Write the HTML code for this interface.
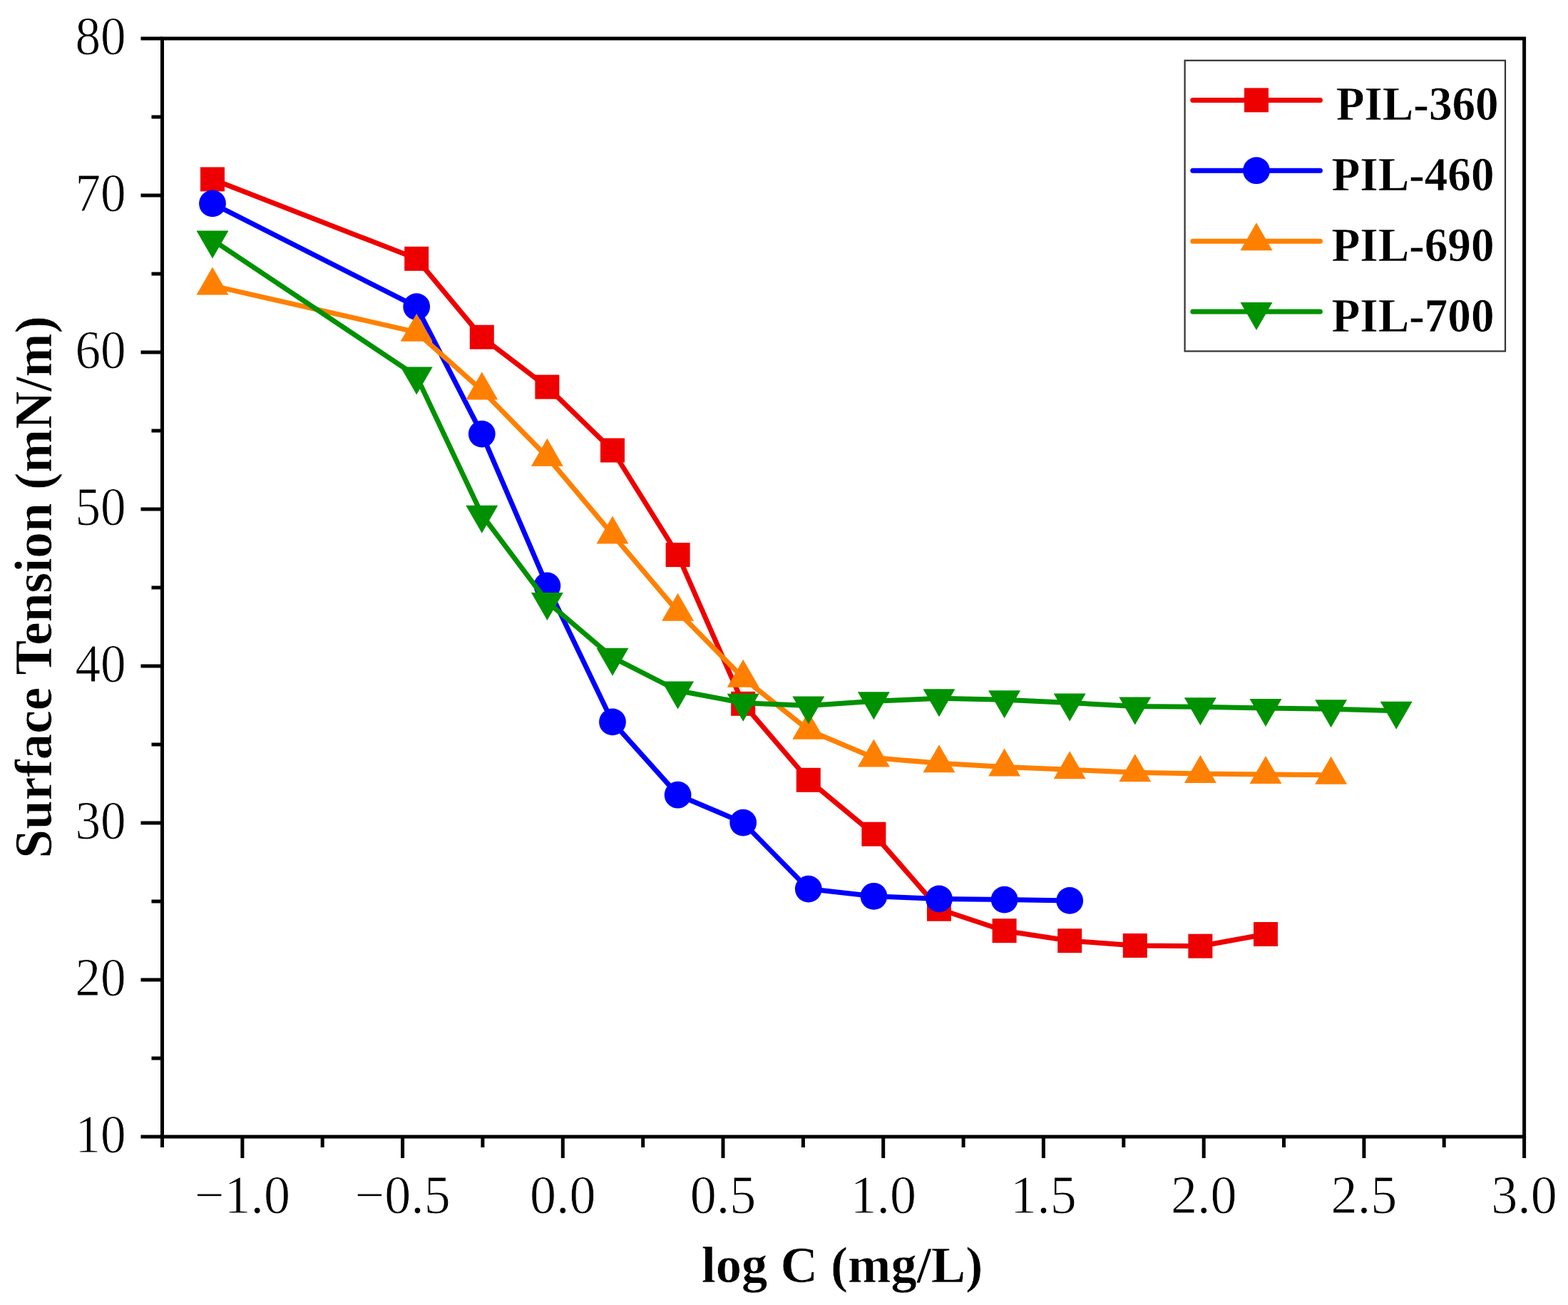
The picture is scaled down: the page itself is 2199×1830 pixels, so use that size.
<!DOCTYPE html>
<html><head><meta charset="utf-8"><title>Surface tension vs log C</title>
<style>
html,body{margin:0;padding:0;background:#fff;}
body{width:2199px;height:1830px;overflow:hidden;}
svg{display:block;filter:blur(0.55px);}
.n{font-family:"Liberation Serif","Times New Roman",serif;font-size:76px;fill:#000;stroke:#fff;stroke-width:0.9px;}
.b{font-family:"Liberation Serif","Times New Roman",serif;font-weight:bold;fill:#000;stroke:#fff;stroke-width:0.6px;}
</style></head><body>
<svg width="2199" height="1830" viewBox="0 0 2199 1830">
<rect width="2199" height="1830" fill="#fff"/>
<polyline fill="none" stroke="#ee0000" stroke-width="7.0" stroke-linejoin="round" points="298.0,251.4 584.2,362.8 675.8,472.7 767.4,542.6 859.0,631.5 950.6,778.1 1042.2,986.8 1133.8,1093.8 1225.4,1169.7 1317.0,1274.7 1408.6,1305.2 1500.2,1319.2 1591.8,1326.0 1683.4,1326.7 1775.0,1310.0"/><rect x="281.0" y="234.4" width="34.0" height="34.0" fill="#ee0000"/><rect x="567.2" y="345.8" width="34.0" height="34.0" fill="#ee0000"/><rect x="658.8" y="455.7" width="34.0" height="34.0" fill="#ee0000"/><rect x="750.4" y="525.6" width="34.0" height="34.0" fill="#ee0000"/><rect x="842.0" y="614.5" width="34.0" height="34.0" fill="#ee0000"/><rect x="933.6" y="761.1" width="34.0" height="34.0" fill="#ee0000"/><rect x="1025.2" y="969.8" width="34.0" height="34.0" fill="#ee0000"/><rect x="1116.8" y="1076.8" width="34.0" height="34.0" fill="#ee0000"/><rect x="1208.4" y="1152.7" width="34.0" height="34.0" fill="#ee0000"/><rect x="1300.0" y="1257.7" width="34.0" height="34.0" fill="#ee0000"/><rect x="1391.6" y="1288.2" width="34.0" height="34.0" fill="#ee0000"/><rect x="1483.2" y="1302.2" width="34.0" height="34.0" fill="#ee0000"/><rect x="1574.8" y="1309.0" width="34.0" height="34.0" fill="#ee0000"/><rect x="1666.4" y="1309.7" width="34.0" height="34.0" fill="#ee0000"/><rect x="1758.0" y="1293.0" width="34.0" height="34.0" fill="#ee0000"/>
<polyline fill="none" stroke="#0000ff" stroke-width="7.0" stroke-linejoin="round" points="298.0,285.4 584.2,430.1 675.8,608.6 767.4,821.5 859.0,1012.4 950.6,1114.7 1042.2,1153.6 1133.8,1246.6 1225.4,1256.8 1317.0,1260.4 1408.6,1261.6 1500.2,1262.9"/><circle cx="298.0" cy="285.4" r="18.9" fill="#0000ff"/><circle cx="584.2" cy="430.1" r="18.9" fill="#0000ff"/><circle cx="675.8" cy="608.6" r="18.9" fill="#0000ff"/><circle cx="767.4" cy="821.5" r="18.9" fill="#0000ff"/><circle cx="859.0" cy="1012.4" r="18.9" fill="#0000ff"/><circle cx="950.6" cy="1114.7" r="18.9" fill="#0000ff"/><circle cx="1042.2" cy="1153.6" r="18.9" fill="#0000ff"/><circle cx="1133.8" cy="1246.6" r="18.9" fill="#0000ff"/><circle cx="1225.4" cy="1256.8" r="18.9" fill="#0000ff"/><circle cx="1317.0" cy="1260.4" r="18.9" fill="#0000ff"/><circle cx="1408.6" cy="1261.6" r="18.9" fill="#0000ff"/><circle cx="1500.2" cy="1262.9" r="18.9" fill="#0000ff"/>
<polyline fill="none" stroke="#ff8000" stroke-width="7.0" stroke-linejoin="round" points="298.0,400.6 584.2,465.8 675.8,547.4 767.4,640.7 859.0,749.6 950.6,857.8 1042.2,950.7 1133.8,1023.7 1225.4,1062.5 1317.0,1070.3 1408.6,1075.5 1500.2,1079.3 1591.8,1083.3 1683.4,1085.0 1775.0,1086.0 1866.6,1086.7"/><polygon points="298.0,374.6 275.5,413.6 320.5,413.6" fill="#ff8000"/><polygon points="584.2,439.8 561.7,478.8 606.7,478.8" fill="#ff8000"/><polygon points="675.8,521.4 653.3,560.4 698.3,560.4" fill="#ff8000"/><polygon points="767.4,614.7 744.9,653.7 789.9,653.7" fill="#ff8000"/><polygon points="859.0,723.6 836.5,762.6 881.5,762.6" fill="#ff8000"/><polygon points="950.6,831.8 928.1,870.8 973.1,870.8" fill="#ff8000"/><polygon points="1042.2,924.7 1019.7,963.7 1064.7,963.7" fill="#ff8000"/><polygon points="1133.8,997.7 1111.3,1036.7 1156.3,1036.7" fill="#ff8000"/><polygon points="1225.4,1036.5 1202.9,1075.5 1247.9,1075.5" fill="#ff8000"/><polygon points="1317.0,1044.3 1294.5,1083.3 1339.5,1083.3" fill="#ff8000"/><polygon points="1408.6,1049.5 1386.1,1088.5 1431.1,1088.5" fill="#ff8000"/><polygon points="1500.2,1053.3 1477.7,1092.3 1522.7,1092.3" fill="#ff8000"/><polygon points="1591.8,1057.3 1569.3,1096.3 1614.3,1096.3" fill="#ff8000"/><polygon points="1683.4,1059.0 1660.9,1098.0 1705.9,1098.0" fill="#ff8000"/><polygon points="1775.0,1060.0 1752.5,1099.0 1797.5,1099.0" fill="#ff8000"/><polygon points="1866.6,1060.7 1844.1,1099.7 1889.1,1099.7" fill="#ff8000"/>
<polyline fill="none" stroke="#009100" stroke-width="7.0" stroke-linejoin="round" points="298.0,336.4 584.2,527.5 675.8,721.8 767.4,843.9 859.0,921.8 950.6,968.5 1042.2,985.7 1133.8,989.5 1225.4,983.3 1317.0,979.3 1408.6,981.2 1500.2,985.4 1591.8,990.6 1683.4,991.2 1775.0,992.9 1866.6,994.2 1958.2,996.7"/><polygon points="298.0,362.4 275.5,323.4 320.5,323.4" fill="#009100"/><polygon points="584.2,553.5 561.7,514.5 606.7,514.5" fill="#009100"/><polygon points="675.8,747.8 653.3,708.8 698.3,708.8" fill="#009100"/><polygon points="767.4,869.9 744.9,830.9 789.9,830.9" fill="#009100"/><polygon points="859.0,947.8 836.5,908.8 881.5,908.8" fill="#009100"/><polygon points="950.6,994.5 928.1,955.5 973.1,955.5" fill="#009100"/><polygon points="1042.2,1011.7 1019.7,972.7 1064.7,972.7" fill="#009100"/><polygon points="1133.8,1015.5 1111.3,976.5 1156.3,976.5" fill="#009100"/><polygon points="1225.4,1009.3 1202.9,970.3 1247.9,970.3" fill="#009100"/><polygon points="1317.0,1005.3 1294.5,966.3 1339.5,966.3" fill="#009100"/><polygon points="1408.6,1007.2 1386.1,968.2 1431.1,968.2" fill="#009100"/><polygon points="1500.2,1011.4 1477.7,972.4 1522.7,972.4" fill="#009100"/><polygon points="1591.8,1016.6 1569.3,977.6 1614.3,977.6" fill="#009100"/><polygon points="1683.4,1017.2 1660.9,978.2 1705.9,978.2" fill="#009100"/><polygon points="1775.0,1018.9 1752.5,979.9 1797.5,979.9" fill="#009100"/><polygon points="1866.6,1020.2 1844.1,981.2 1889.1,981.2" fill="#009100"/><polygon points="1958.2,1022.7 1935.7,983.7 1980.7,983.7" fill="#009100"/>
<rect x="227.5" y="54.0" width="1910.1" height="1540.0" fill="none" stroke="#000" stroke-width="5"/>
<path d="M197.5,1594.0H227.5M212.5,1484.0H227.5M197.5,1374.0H227.5M212.5,1264.0H227.5M197.5,1154.0H227.5M212.5,1044.0H227.5M197.5,934.0H227.5M212.5,824.0H227.5M197.5,714.0H227.5M212.5,604.0H227.5M197.5,494.0H227.5M212.5,384.0H227.5M197.5,274.0H227.5M212.5,164.0H227.5M197.5,54.0H227.5M227.5,1594.0V1609.0M339.9,1594.0V1624.0M452.2,1594.0V1609.0M564.6,1594.0V1624.0M676.9,1594.0V1609.0M789.3,1594.0V1624.0M901.7,1594.0V1609.0M1014.0,1594.0V1624.0M1126.4,1594.0V1609.0M1238.7,1594.0V1624.0M1351.1,1594.0V1609.0M1463.4,1594.0V1624.0M1575.8,1594.0V1609.0M1688.2,1594.0V1624.0M1800.5,1594.0V1609.0M1912.9,1594.0V1624.0M2025.2,1594.0V1609.0M2137.6,1594.0V1624.0" stroke="#000" stroke-width="5" fill="none"/>
<text transform="translate(176.6,1616.0) scale(0.937,1)" text-anchor="end" class="n">10</text>
<text transform="translate(176.6,1396.0) scale(0.937,1)" text-anchor="end" class="n">20</text>
<text transform="translate(176.6,1176.0) scale(0.937,1)" text-anchor="end" class="n">30</text>
<text transform="translate(176.6,956.0) scale(0.937,1)" text-anchor="end" class="n">40</text>
<text transform="translate(176.6,736.0) scale(0.937,1)" text-anchor="end" class="n">50</text>
<text transform="translate(176.6,516.0) scale(0.937,1)" text-anchor="end" class="n">60</text>
<text transform="translate(176.6,296.0) scale(0.937,1)" text-anchor="end" class="n">70</text>
<text transform="translate(176.6,76.0) scale(0.937,1)" text-anchor="end" class="n">80</text>
<text transform="translate(339.9,1700.9) scale(0.975,1)" text-anchor="middle" class="n">−1.0</text>
<text transform="translate(564.6,1700.9) scale(0.975,1)" text-anchor="middle" class="n">−0.5</text>
<text transform="translate(789.3,1700.9) scale(0.975,1)" text-anchor="middle" class="n">0.0</text>
<text transform="translate(1014.0,1700.9) scale(0.975,1)" text-anchor="middle" class="n">0.5</text>
<text transform="translate(1238.7,1700.9) scale(0.975,1)" text-anchor="middle" class="n">1.0</text>
<text transform="translate(1463.4,1700.9) scale(0.975,1)" text-anchor="middle" class="n">1.5</text>
<text transform="translate(1688.2,1700.9) scale(0.975,1)" text-anchor="middle" class="n">2.0</text>
<text transform="translate(1912.9,1700.9) scale(0.975,1)" text-anchor="middle" class="n">2.5</text>
<text transform="translate(2137.6,1700.9) scale(0.975,1)" text-anchor="middle" class="n">3.0</text>
<text transform="translate(1181,1797.5)" text-anchor="middle" class="b" font-size="72.5">log C (mg/L)</text>
<text transform="translate(71.5,823.4) rotate(-90) scale(0.9766,1)" text-anchor="middle" class="b" font-size="75">Surface Tension (mN/m)</text>
<rect x="1661.6" y="84.8" width="449.4" height="407.7" fill="#fff" stroke="#333" stroke-width="2.2"/>
<line x1="1672.8" y1="140.4" x2="1851.4" y2="140.4" stroke="#ee0000" stroke-width="7.0" stroke-linecap="round"/>
<rect x="1745.0" y="123.4" width="34.0" height="34.0" fill="#ee0000"/>
<text transform="translate(1873.7,168.4) scale(0.958,1)" class="b" font-size="68">PIL-360</text>
<line x1="1672.8" y1="239.2" x2="1851.4" y2="239.2" stroke="#0000ff" stroke-width="7.0" stroke-linecap="round"/>
<circle cx="1762.0" cy="239.2" r="18.9" fill="#0000ff"/>
<text transform="translate(1867.5,267.2) scale(0.958,1)" class="b" font-size="68">PIL-460</text>
<line x1="1672.8" y1="338.2" x2="1851.4" y2="338.2" stroke="#ff8000" stroke-width="7.0" stroke-linecap="round"/>
<polygon points="1762.0,312.2 1739.5,351.2 1784.5,351.2" fill="#ff8000"/>
<text transform="translate(1867.5,366.2) scale(0.958,1)" class="b" font-size="68">PIL-690</text>
<line x1="1672.8" y1="437.1" x2="1851.4" y2="437.1" stroke="#009100" stroke-width="7.0" stroke-linecap="round"/>
<polygon points="1762.0,463.1 1739.5,424.1 1784.5,424.1" fill="#009100"/>
<text transform="translate(1867.5,465.1) scale(0.958,1)" class="b" font-size="68">PIL-700</text>
</svg>
</body></html>
